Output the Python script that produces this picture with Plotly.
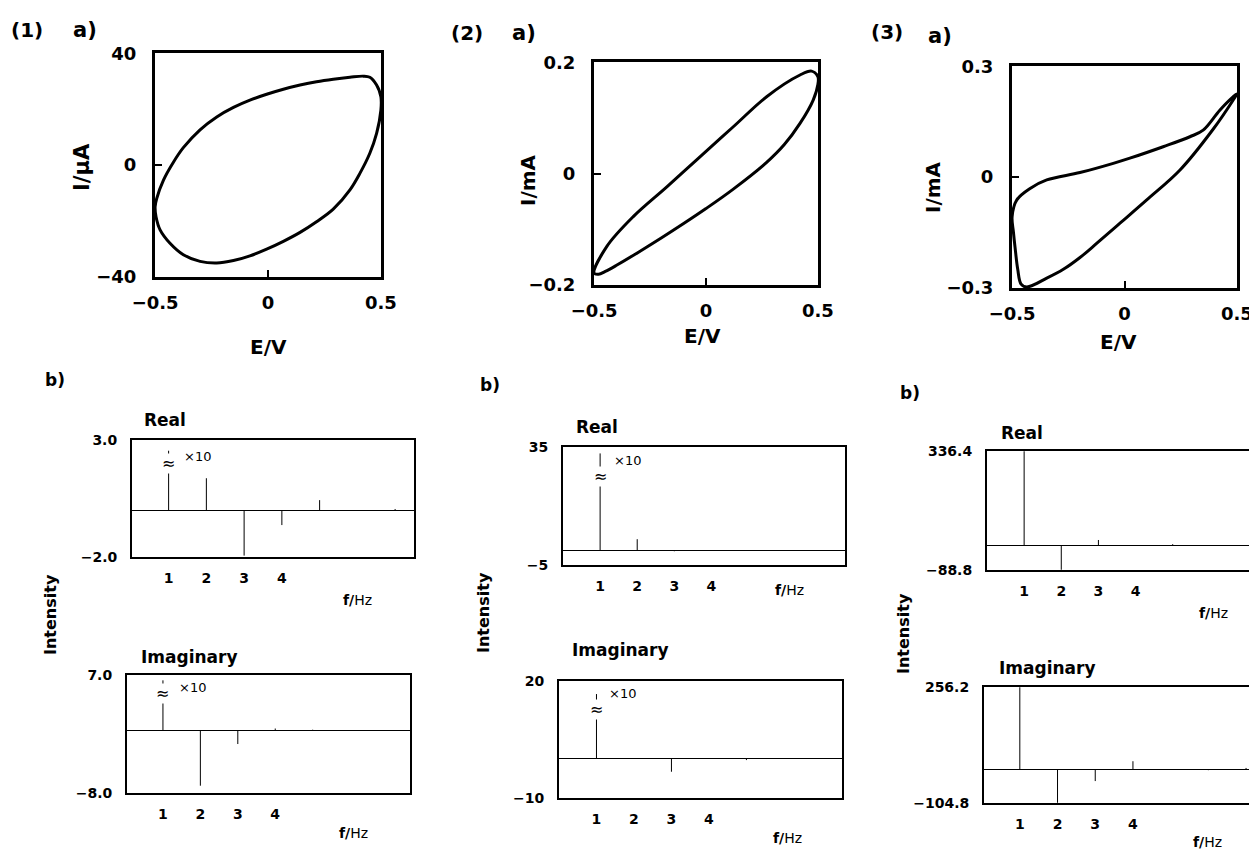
import plotly.graph_objects as go

W, H = 1257, 852          # target picture size
OFF = 8                   # page body margin of the browser
FW, FH = W - OFF, H - OFF # figure size so that it exactly fills the window
FONT = "DejaVu Sans"

# ---------------- data ----------------
# (1) a) cyclic voltammogram, E/V vs I/uA
cv1_E = [-0.500, -0.493, -0.463, -0.419, -0.375, -0.301, -0.227, -0.153, -0.080, -0.006, 0.068, 0.142,
         0.215, 0.289, 0.363, 0.422, 0.451, 0.481, 0.500,
         0.500, 0.481, 0.451, 0.407, 0.363, 0.289, 0.215, 0.142, 0.068, -0.006, -0.080, -0.153,
         -0.227, -0.301, -0.375, -0.434, -0.478, -0.496, -0.500]
cv1_I = [-14.9, -12.0, -5.4, 1.0, 6.2, 12.6, 17.2, 20.6, 23.2, 25.3, 27.1, 28.6,
         29.8, 30.7, 31.4, 31.8, 31.4, 28.6, 24.4,
         19.6, 11.3, 4.2, -3.0, -8.9, -15.8, -20.3, -24.1, -27.3, -30.1, -32.5, -34.2,
         -35.1, -34.5, -32.1, -28.0, -23.2, -18.5, -14.9]

# (2) a) E/V vs I/mA
cv2_E = [-0.500, -0.443, -0.325, -0.175, -0.027, 0.122, 0.271, 0.420, 0.472, 0.500, 0.500,
         0.479, 0.420, 0.350, 0.271, 0.122, 0.000, -0.100, -0.200, -0.300, -0.400, -0.450, -0.480, -0.500]
cv2_I = [-0.179, -0.131, -0.0775, -0.024, 0.030, 0.084, 0.138, 0.177, 0.184, 0.174, 0.160,
         0.132, 0.090, 0.052, 0.020, -0.028, -0.063, -0.090, -0.116, -0.141, -0.165, -0.176, -0.181, -0.179]

# (3) a) E/V vs I/mA
cv3_E = [-0.500, -0.479, -0.420, -0.346, -0.198, -0.050, 0.024, 0.172, 0.291, 0.350, 0.424, 0.483, 0.500,
         0.483, 0.395, 0.247, 0.099, -0.020, -0.124, -0.198, -0.272, -0.346, -0.435,
         -0.460, -0.475, -0.487, -0.494, -0.500]
cv3_I = [-0.107, -0.062, -0.031, -0.008, 0.012, 0.037, 0.051, 0.082, 0.109, 0.127, 0.181, 0.217, 0.225,
         0.208, 0.130, 0.019, -0.062, -0.125, -0.180, -0.218, -0.250, -0.274, -0.298,
         -0.290, -0.250, -0.190, -0.150, -0.107]

# b) Fourier spectra, f/Hz
freq = [1, 2, 3, 4, 5, 6, 7]
real1 = [2.55, 1.37, -1.95, -0.64, 0.43, 0.0, 0.05]
imag1 = [6.35, -7.1, -1.78, 0.2, 0.05, -0.1, -0.1]
real2 = [32.9, 3.7, -0.4, 0.0, 0.0, 0.0, 0.0]
imag2 = [16.7, 0.0, -3.3, 0.0, -0.3, 0.0, 0.0]
real3 = [336.4, -88.8, 18.0, 0.0, 3.0, 0.0, 0.0]
imag3 = [256.2, -104.8, -37.0, 25.0, 0.0, -3.0, 4.0]

xtick_vals = [1, 2, 3, 4]
xtick_text = ["1", "2", "3", "4"]

# y-axis limits / labels of the spectra
lim_real1 = [-2.0, 3.0]; lab_real1 = ["−2.0", "3.0"]
lim_imag1 = [-8.0, 7.0]; lab_imag1 = ["−8.0", "7.0"]
lim_real2 = [-5, 35];    lab_real2 = ["−5", "35"]
lim_imag2 = [-10, 20];   lab_imag2 = ["−10", "20"]
lim_real3 = [-88.8, 336.4]; lab_real3 = ["−88.8", "336.4"]
lim_imag3 = [-104.8, 256.2]; lab_imag3 = ["−104.8", "256.2"]

# x10 break positions on first harmonic stems
break_real1 = 2.0
break_imag1 = 4.7
break_real2 = 25.0
break_imag2 = 12.8

# ---------------- helpers ----------------
def dx(a, b):
    return [max(0.0, (a - OFF) / FW), min(1.0, (b - OFF) / FW)]

def dy(top, bottom):
    return [max(0.0, 1 - (bottom - OFF) / FH), min(1.0, 1 - (top - OFF) / FH)]

def tfont(size, bold=True):
    d = dict(family=FONT, size=size, color="black")
    if bold:
        d["weight"] = "bold"
    return d

layout = dict(width=FW, height=FH, margin=dict(l=0, r=0, t=0, b=0, pad=0, autoexpand=False),
              paper_bgcolor="white", plot_bgcolor="white", showlegend=False)

fig = go.Figure()

def add_cv(i, xd, yd, ylim, ylabels, E, I):
    pad = (ylim[1] - ylim[0]) * 0.001
    layout[f"xaxis{i}"] = dict(domain=dx(*xd), range=[-0.5005, 0.5005], anchor=f"y{i}",
                               showline=True, linecolor="black", linewidth=3, mirror=True,
                               ticks="inside", ticklen=7, tickwidth=2, tickcolor="black",
                               tickvals=[-0.5, 0, 0.5], ticktext=["−0.5", "0", "0.5"],
                               tickfont=tfont(18), showgrid=False, zeroline=False,
                               ticklabelstandoff=7, automargin=False)
    layout[f"yaxis{i}"] = dict(domain=dy(*yd), range=[ylim[0] - pad, ylim[1] + pad], anchor=f"x{i}",
                               showline=True, linecolor="black", linewidth=3, mirror=True,
                               ticks="inside", ticklen=7, tickwidth=2, tickcolor="black",
                               tickvals=[ylim[0], 0, ylim[1]], ticktext=ylabels,
                               tickfont=tfont(18), showgrid=False, zeroline=False,
                               ticklabelstandoff=12, automargin=False)
    fig.add_trace(go.Scatter(x=E, y=I, mode="lines", xaxis=f"x{i}", yaxis=f"y{i}",
                             line=dict(color="black", width=3, shape="spline", smoothing=1.0),
                             hoverinfo="skip"))

def add_spec(i, xd, yd, xr, ylim, ylabels, vals, right_border=True):
    pad = (ylim[1] - ylim[0]) * 0.002
    layout[f"xaxis{i}"] = dict(domain=dx(*xd), range=xr, anchor=f"y{i}",
                               showline=True, linecolor="black", linewidth=2, mirror=True,
                               ticks="", tickvals=xtick_vals, ticktext=xtick_text,
                               tickfont=tfont(14), showgrid=False, zeroline=False,
                               ticklabelstandoff=7, automargin=False)
    layout[f"yaxis{i}"] = dict(domain=dy(*yd), range=[ylim[0] - pad, ylim[1] + pad], anchor=f"x{i}",
                               showline=True, linecolor="black", linewidth=2, mirror=right_border,
                               ticks="", tickvals=list(ylim), ticktext=ylabels,
                               tickfont=tfont(14), showgrid=False,
                               zeroline=True, zerolinecolor="black", zerolinewidth=1,
                               ticklabelstandoff=10, automargin=False)
    xs, ys = [], []
    for f, v in zip(freq, vals):
        xs += [f, f, None]
        ys += [0, v, None]
    fig.add_trace(go.Scatter(x=xs, y=ys, mode="lines", xaxis=f"x{i}", yaxis=f"y{i}",
                             line=dict(color="black", width=1), hoverinfo="skip"))

# top row
add_cv("", (155, 381), (53, 277), [-40, 40], ["−40", "0", "40"], cv1_E, cv1_I)
add_cv(2, (594, 818), (62, 285), [-0.2, 0.2], ["−0.2", "0", "0.2"], cv2_E, cv2_I)
add_cv(3, (1012, 1237), (66, 288), [-0.3, 0.3], ["−0.3", "0", "0.3"], cv3_E, cv3_I)

# spectra
add_spec(4, (132, 414), (440, 557), [0.03, 7.5], lim_real1, lab_real1, real1)
add_spec(5, (127, 410), (675, 793), [0.04, 7.6], lim_imag1, lab_imag1, imag1)
add_spec(6, (563, 845), (447, 565), [0.0, 7.6], lim_real2, lab_real2, real2)
add_spec(7, (559, 842), (681, 798), [0.0, 7.55], lim_imag2, lab_imag2, imag2)
add_spec(8, (987, 1257), (451, 570), [0.0, 7.27], lim_real3, lab_real3, real3, right_border=False)
add_spec(9, (984, 1257), (687, 803), [0.05, 7.29], lim_imag3, lab_imag3, imag3, right_border=False)

layout["xaxis"]["anchor"] = "y"
layout["yaxis"]["anchor"] = "x"

anns = []

def ann(text, x, y, size, bold=True, angle=0, xanchor="center"):
    anns.append(dict(text=text, x=(x - OFF) / FW, y=1 - (y - OFF) / FH, xref="paper", yref="paper",
                     xanchor=xanchor, yanchor="middle", showarrow=False, textangle=angle,
                     font=tfont(size, bold)))

# panel headers
ann("(1)", 27, 30, 20); ann("a)", 85, 30, 21)
ann("(2)", 467, 33, 20); ann("a)", 524, 33, 21)
ann("(3)", 887, 32, 20); ann("a)", 940, 36, 21)

# CV axis titles
ann("E/V", 268, 347, 20)
ann("I/μA", 82, 167, 21, angle=-90)
ann("E/V", 702, 336, 20)
ann("I/mA", 528, 180, 20, angle=-90)
ann("E/V", 1118, 342, 20)
ann("I/mA", 933, 187, 20, angle=-90)

# spectra labels
ann("b)", 55, 380, 17); ann("b)", 490, 385, 17); ann("b)", 910, 393, 17)
ann("Real", 165, 420, 17); ann("Real", 597, 427, 17); ann("Real", 1022, 433, 17)
ann("Imaginary", 190, 657, 17); ann("Imaginary", 620, 650, 17); ann("Imaginary", 1047, 668, 17)
ann("Intensity", 50, 615, 16, angle=-90)
ann("Intensity", 483, 612, 16, angle=-90)
ann("Intensity", 903, 634, 16, angle=-90)
for (x, y) in [(357, 600), (353, 833), (790, 590), (787, 838), (1213, 613), (1207, 842)]:
    ann("<b>f/</b>Hz", x, y, 14, bold=False)
for (x, y) in [(197, 456), (192, 687), (627, 460), (622, 693)]:
    ann("×10", x, y, 13, bold=False)

# axis-break marks
for ax, yb in [(4, break_real1), (5, break_imag1), (6, break_real2), (7, break_imag2)]:
    anns.append(dict(text="≈", x=1, y=yb, xref=f"x{ax}", yref=f"y{ax}", showarrow=False,
                     xanchor="center", yanchor="middle", font=dict(family=FONT, size=16, color="black"),
                     bgcolor="white", borderpad=0))

layout["annotations"] = anns
fig.update_layout(**layout)
fig.write_html("out.html")
